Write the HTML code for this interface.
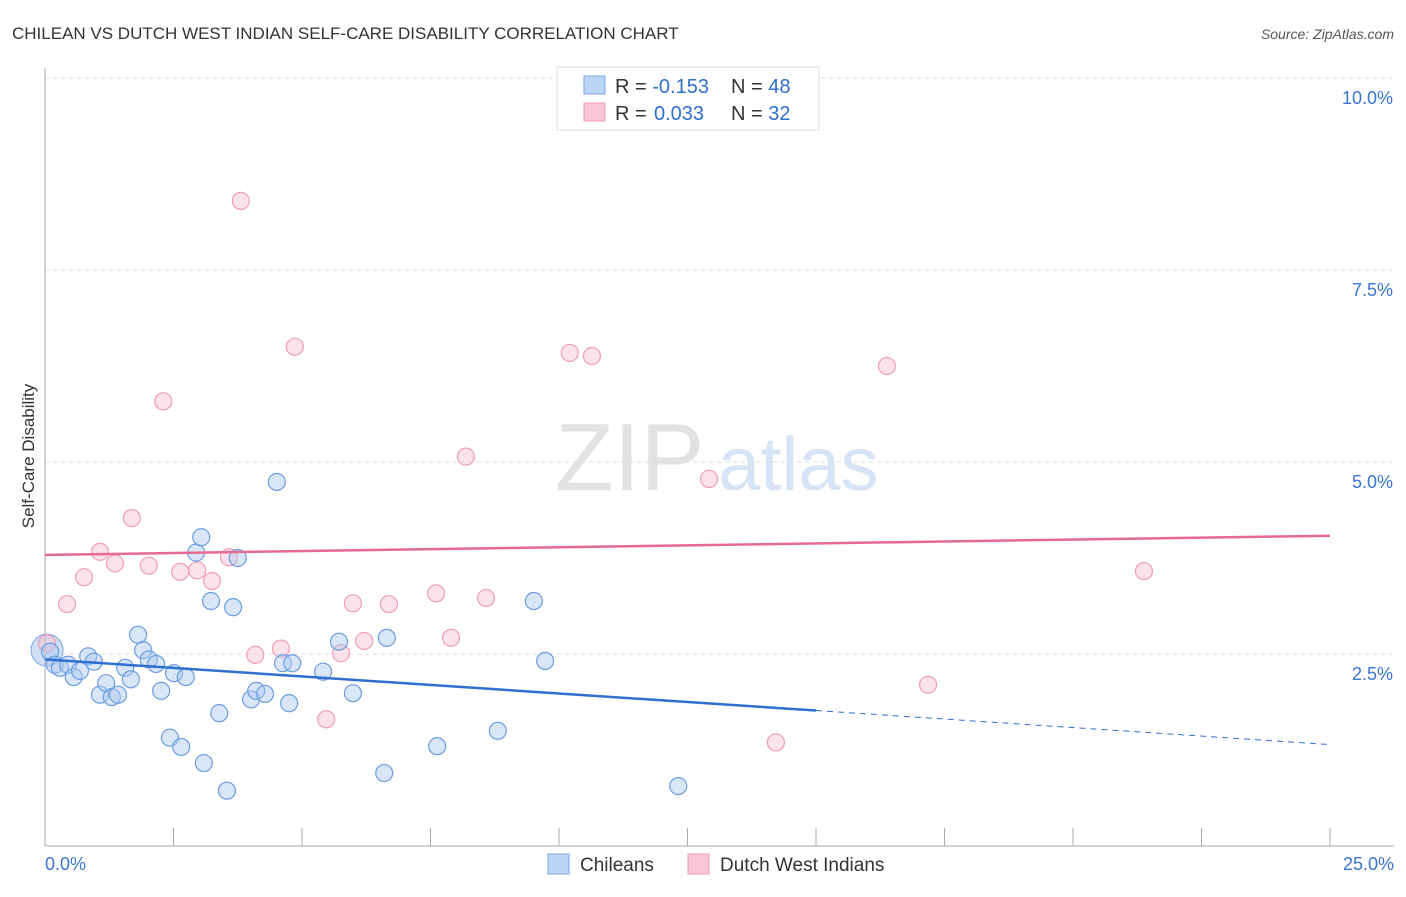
<!DOCTYPE html>
<html><head><meta charset="utf-8"><style>
body{margin:0;background:#fff;font-family:"Liberation Sans",sans-serif;}
svg text{font-family:"Liberation Sans",sans-serif;}
</style></head><body>
<svg id="chart" width="1406" height="892" xmlns="http://www.w3.org/2000/svg">
<text x="12" y="39" font-size="17" fill="#333">CHILEAN VS DUTCH WEST INDIAN SELF-CARE DISABILITY CORRELATION CHART</text>
<text x="1394" y="39" font-size="14" fill="#555" font-style="italic" text-anchor="end">Source: ZipAtlas.com</text>
<g>
<text x="555" y="490" font-size="96" fill="#e2e2e2" font-family="Liberation Serif,serif">ZIP</text>
<text x="718" y="490" font-size="76" fill="#d6e4f5">atlas</text>
</g>
<g id="grid"></g>
<g id="axes"></g>
<g id="marks"></g>
<text transform="translate(34,456) rotate(-90)" font-size="17" fill="#333" text-anchor="middle">Self-Care Disability</text>
<g>
<rect x="557" y="67" width="262" height="63" fill="#fff" stroke="#ddd"/>
<rect x="584" y="76" width="21" height="18" fill="#bcd4f5" stroke="#7aa8e6"/>
<rect x="584" y="103" width="21" height="18" fill="#f9c8d6" stroke="#ee9db5"/>
<text x="615" y="93" font-size="20" fill="#333">R = <tspan fill="#2f6fd0">-0.153</tspan><tspan x="731">N = </tspan><tspan fill="#2f6fd0">48</tspan></text>
<text x="615" y="120" font-size="20" fill="#333">R = <tspan fill="#2f6fd0" x="654">0.033</tspan><tspan x="731">N = </tspan><tspan fill="#2f6fd0">32</tspan></text>
</g>
<g>
<rect x="548" y="854" width="21" height="20" fill="#bcd4f5" stroke="#7aa8e6"/>
<text x="580" y="871" font-size="19" fill="#333">Chileans</text>
<rect x="688" y="854" width="21" height="20" fill="#f9c8d6" stroke="#ee9db5"/>
<text x="720" y="871" font-size="19" fill="#333">Dutch West Indians</text>
</g>
</svg>
<script>
const blueX=[0.10,0.19,0.29,0.45,0.56,0.68,0.84,0.95,1.07,1.19,1.30,1.42,1.56,1.67,1.81,1.91,2.02,2.16,2.26,2.43,2.51,2.65,2.74,2.94,3.04,3.09,3.23,3.39,3.54,3.66,3.75,4.01,4.11,4.28,4.51,4.63,4.75,4.81,5.41,5.72,5.99,6.60,6.65,7.63,8.81,9.51,9.73,12.32];
const blueY=[2.53,2.36,2.32,2.36,2.20,2.28,2.47,2.40,1.97,2.12,1.94,1.97,2.32,2.17,2.75,2.55,2.43,2.37,2.02,1.41,2.25,1.29,2.20,3.82,4.02,1.08,3.19,1.73,0.72,3.11,3.75,1.91,2.02,1.98,4.74,2.38,1.86,2.38,2.27,2.66,1.99,0.95,2.71,1.30,1.50,3.19,2.41,0.78];
const pinkX=[0.04,0.43,0.76,1.07,1.36,1.69,2.02,2.30,2.63,2.96,3.25,3.58,3.81,4.09,4.59,4.86,5.47,5.76,5.99,6.21,6.69,7.61,7.90,8.19,8.58,10.21,10.64,12.92,14.22,16.38,17.18,21.38];
const pinkY=[2.64,3.15,3.50,3.83,3.68,4.27,3.65,5.79,3.57,3.59,3.45,3.76,8.40,2.49,2.57,6.50,1.65,2.51,3.16,2.67,3.15,3.29,2.71,5.07,3.23,6.42,6.38,4.78,1.35,6.25,2.10,3.58];
const yTicks=[2.5,5.0,7.5,10.0];
const yTickLabels=["2.5%","5.0%","7.5%","10.0%"];
const xTicks=[0,2.5,5,7.5,10,12.5,15,17.5,20,22.5,25];
const blueTrend=[2.43,1.32];
const blueSolidEnd=15;
const pinkTrend=[3.79,4.04];

const NS="http://www.w3.org/2000/svg";
const sx=v=>45+v*51.4;
const sy=v=>846-v*76.8;
function mk(tag,attrs,parent){const e=document.createElementNS(NS,tag);for(const k in attrs)e.setAttribute(k,attrs[k]);document.getElementById(parent).appendChild(e);return e;}
yTicks.forEach((t,i)=>{
  const g=mk('line',{x1:45,x2:1394,y1:sy(t),y2:sy(t),stroke:'#ddd','stroke-dasharray':'4,4'},'grid');
  
  
  const l=mk('text',{x:1393,y:sy(t)+26,'font-size':18,fill:'#3a75d0','text-anchor':'end'},'grid');
  l.textContent=yTickLabels[i];
  
  
});
const ya=mk('line',{x1:45,x2:45,y1:68,y2:846,stroke:'#aaa'},'axes');


const xa=mk('line',{x1:45,x2:1394,y1:846,y2:846,stroke:'#aaa'},'axes');


xTicks.forEach(t=>{
  const k=mk('line',{x1:sx(t),x2:sx(t),y1:828,y2:846,stroke:'#aaa'},'axes');
  
  
});
const x0=mk('text',{x:45,y:870,'font-size':18,fill:'#3a75d0'},'axes');x0.textContent='0.0%';


const x1=mk('text',{x:1394,y:870,'font-size':18,fill:'#3a75d0','text-anchor':'end'},'axes');x1.textContent='25.0%';



const bigB=mk('circle',{cx:sx(0.04),cy:sy(2.55),r:16,fill:'rgba(150,185,235,0.45)',stroke:'#7aa8e6'},'marks');


pinkX.forEach((x,i)=>{
  const c=mk('circle',{cx:sx(x),cy:sy(pinkY[i]),r:8.5,fill:'rgba(248,190,208,0.45)',stroke:'#ee9db5','stroke-width':1.2},'marks');
  
  
});
blueX.forEach((x,i)=>{
  const c=mk('circle',{cx:sx(x),cy:sy(blueY[i]),r:8.5,fill:'rgba(170,200,240,0.45)',stroke:'#6b9de0','stroke-width':1.2},'marks');
  
  
});
const by=v=>blueTrend[0]+(blueTrend[1]-blueTrend[0])*v/25;
const bt=mk('line',{x1:sx(0),y1:sy(by(0)),x2:sx(blueSolidEnd),y2:sy(by(blueSolidEnd)),stroke:'#2f6fd0','stroke-width':2.5},'marks');


const bd=mk('line',{x1:sx(blueSolidEnd),y1:sy(by(blueSolidEnd)),x2:sx(25),y2:sy(by(25)),stroke:'#2f6fd0','stroke-width':1,'stroke-dasharray':'6,5'},'marks');


const pt=mk('line',{x1:sx(0),y1:sy(pinkTrend[0]),x2:sx(25),y2:sy(pinkTrend[1]),stroke:'#e76a95','stroke-width':2.5},'marks');


</script>
</body></html>
